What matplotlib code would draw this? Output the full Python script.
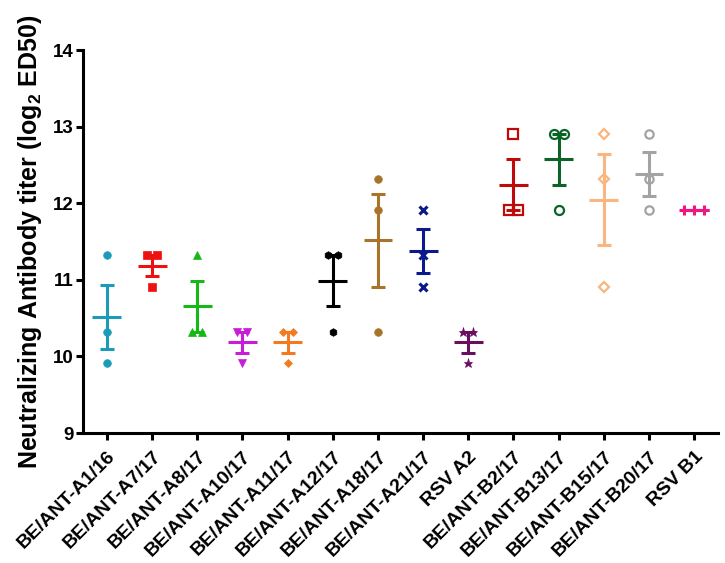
import numpy as np
import matplotlib
matplotlib.use('Agg')
import matplotlib.pyplot as plt

plt.rcParams['font.family'] = ['Liberation Sans', 'DejaVu Sans']
plt.rcParams['mathtext.fontset'] = 'custom'
plt.rcParams['mathtext.bf'] = 'Liberation Sans:bold'
plt.rcParams['mathtext.rm'] = 'Liberation Sans:bold'

# strains and their titers (log2 ED50), three animals each
strains = ['BE/ANT-A1/16', 'BE/ANT-A7/17', 'BE/ANT-A8/17', 'BE/ANT-A10/17',
           'BE/ANT-A11/17', 'BE/ANT-A12/17', 'BE/ANT-A18/17', 'BE/ANT-A21/17',
           'RSV A2', 'BE/ANT-B2/17', 'BE/ANT-B13/17', 'BE/ANT-B15/17',
           'BE/ANT-B20/17', 'RSV B1']
titers = [
    [11.32, 10.32, 9.91],
    [11.32, 11.32, 10.91],
    [11.32, 10.32, 10.32],
    [10.32, 10.32, 9.91],
    [10.32, 10.32, 9.91],
    [11.32, 11.32, 10.32],
    [12.32, 11.91, 10.32],
    [11.91, 11.32, 10.91],
    [10.32, 10.32, 9.91],
    [12.91, 11.91, 11.91],
    [12.91, 12.91, 11.91],
    [12.91, 12.32, 10.91],
    [12.91, 12.32, 11.91],
    [11.91, 11.91, 11.91],
]
colors = ['#1C9BB8', '#EE1111', '#16B816', '#C81CD8', '#F47A1F', '#000000',
          '#A8742A', '#0A1A8C', '#6A0E5E', '#C00A0A', '#0A6428', '#FAB67E',
          '#A3A3A3', '#EE1680']
markers = ['o', 's', '^', 'v', 'D', 'h', 'o', 'x', '*', 's', 'o', 'D', 'o', '+']
filled = [True] * 9 + [False] * 4 + [True]
msizes = [5.5, 5.5, 6, 6, 4.5, 5.5, 5.5, 6, 6.5, 6.5, 6.5, 5, 6, 7]

fig = plt.figure(figsize=(7.25, 5.63), dpi=100)
ax = fig.add_axes([0.1145, 0.2309, 0.876, 0.680])

step = 0.22
for i, vals in enumerate(titers):
    vals = np.array(vals)
    c = colors[i]
    # spread identical values sideways
    xs = np.full(len(vals), float(i))
    for v in np.unique(vals):
        idx = np.where(vals == v)[0]
        n = len(idx)
        xs[idx] = i + (np.arange(n) - (n - 1) / 2) * step
    mfc = c if filled[i] else 'none'
    mew = 2.2 if markers[i] in ('x', '+') else (1.6 if not filled[i] else 0.5)
    ax.plot(xs, vals, linestyle='none', marker=markers[i], ms=msizes[i],
            mfc=mfc, mec=c, mew=mew, zorder=2, clip_on=False)
    m = vals.mean()
    sem = vals.std(ddof=1) / np.sqrt(len(vals))
    ax.hlines(m, i - 0.32, i + 0.32, color=c, lw=2.2, zorder=3)
    if sem > 0:
        ax.errorbar(i, m, yerr=sem, fmt='none', ecolor=c, elinewidth=2.2,
                    capsize=5, capthick=2.2, zorder=3)

ax.set_xlim(-0.53, 13.53)
ax.set_ylim(9, 14)
ax.set_yticks([9, 10, 11, 12, 13, 14])
ax.set_xticks(range(len(strains)))
ax.set_xticklabels(strains, rotation=45, ha='right', va='top',
                   rotation_mode='anchor', fontsize=14, fontweight='bold')
for lab in ax.get_yticklabels():
    lab.set_fontsize(13.5)
    lab.set_fontweight('bold')

for s in ['top', 'right']:
    ax.spines[s].set_visible(False)
for s in ['left', 'bottom']:
    ax.spines[s].set_linewidth(2.2)
ax.tick_params(axis='both', direction='out', length=5, width=2.2, pad=2)
ax.tick_params(axis='x', pad=6)

ax.set_ylabel(r'Neutralizing Antibody titer (log$_{2}$ ED50)',
              fontsize=18, fontweight='bold', labelpad=6)

fig.savefig('out.png', dpi=100)
